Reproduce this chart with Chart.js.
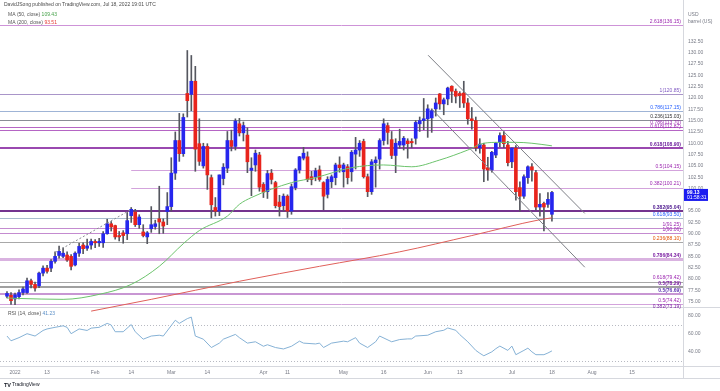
<!DOCTYPE html>
<html>
<head>
<meta charset="utf-8">
<title>USOIL daily</title>
<script src="https://cdn.jsdelivr.net/npm/chart.js@4.4.1/dist/chart.umd.min.js"></script>
<style>
  body { margin: 0; background: #ffffff; }
  canvas { display: block; }
</style>
</head>
<body>
<canvas id="myChart" width="720" height="391"></canvas>
<script>
// daily bars from 30 Dec 2021 to 18 Jul 2022, US holidays have no bar
const noSession = ['2022-01-17', '2022-02-21', '2022-04-15', '2022-05-30', '2022-06-20', '2022-07-04'];

const open = [
  76.2, 76.4,
  75.6, 76.1, 77.0, 77.0, 79.6, 78.8, 78.5, 81.3, 82.4, 82.4, 83.9, 85.2, 85.0, 85.3, 85.0, 83.1, 85.7, 87.5, 86.8, 87.5,
  88.3, 88.0, 88.0, 90.0, 92.2, 91.8, 89.6, 90.2, 90.0, 94.0, 94.8, 92.0, 90.4, 89.3, 91.1, 91.6, 93.3, 92.6, 94.9,
  96.0, 103.4, 110.6, 107.7, 121.0, 120.8, 123.7, 109.9, 105.0, 109.3, 102.4, 95.8, 95.0, 102.2, 104.5, 110.6, 109.3, 114.3, 112.3, 111.8, 104.0, 105.2, 107.4,
  100.9, 99.3, 103.4, 101.3, 97.0, 96.2, 98.3, 95.0, 100.2, 104.1, 106.7, 107.0, 102.6, 102.6, 104.1, 101.3, 98.7, 101.5, 102.4, 105.2,
  103.7, 104.8, 103.7, 107.6, 108.5, 110.4, 102.6, 99.3, 105.7, 106.5, 110.6, 113.9, 110.8, 107.3, 109.6, 109.6, 110.5, 110.4, 111.1, 114.3, 115.0,
  115.4, 115.6, 117.6, 120.9, 118.7, 119.8, 122.6, 121.5, 121.0, 121.1, 118.9, 115.4, 115.0, 109.0, 109.6, 104.6, 104.1, 107.4, 110.2, 111.7, 109.6,
  105.9, 108.9, 100.2, 98.3, 102.4, 104.8, 103.5, 95.9, 96.7, 96.5, 94.3
];
const high = [
  77.2, 77.0,
  76.9, 77.6, 78.2, 80.2, 80.0, 79.3, 81.5, 82.9, 83.0, 84.3, 86.0, 87.3, 86.9, 86.0, 85.4, 86.0, 87.9, 88.0, 88.8, 88.8,
  88.7, 89.0, 90.5, 93.2, 92.7, 91.9, 90.5, 90.7, 94.7, 95.8, 95.4, 94.2, 92.0, 90.5, 96.0, 93.0, 100.5, 93.3, 99.1,
  106.8, 112.5, 116.6, 116.5, 130.5, 129.4, 127.0, 115.4, 110.0, 109.9, 103.0, 98.0, 103.0, 105.5, 112.6, 112.9, 115.4, 115.5, 114.7, 113.4, 106.8, 108.5, 108.0,
  101.3, 104.0, 104.2, 101.6, 98.5, 98.8, 98.6, 101.0, 104.4, 107.1, 109.1, 108.1, 103.8, 104.5, 105.0, 101.5, 102.6, 103.0, 105.6, 107.0,
  105.6, 105.3, 108.4, 111.3, 110.6, 110.9, 103.2, 106.4, 107.0, 111.0, 115.4, 114.5, 112.6, 111.0, 113.1, 111.5, 111.0, 111.0, 115.0, 115.8, 119.9,
  118.5, 117.6, 120.0, 121.0, 120.0, 122.4, 122.7, 122.0, 121.4, 123.7, 119.9, 117.9, 115.8, 111.0, 110.0, 106.9, 108.2, 110.2, 112.3, 112.6, 110.4,
  109.0, 109.5, 101.5, 103.0, 105.0, 105.5, 104.0, 98.9, 97.0, 99.1, 99.4
];
const low = [
  75.8, 74.4,
  74.3, 75.6, 76.5, 76.8, 78.0, 77.3, 78.1, 80.7, 81.3, 81.6, 83.5, 84.6, 84.7, 83.9, 82.0, 82.9, 85.0, 85.6, 86.3, 86.6,
  86.9, 87.2, 87.0, 89.9, 90.6, 88.8, 88.4, 87.9, 88.7, 92.5, 91.6, 91.2, 89.3, 87.8, 90.3, 91.0, 90.0, 90.1, 92.0,
  95.0, 102.0, 106.0, 107.1, 115.8, 117.2, 103.8, 105.1, 104.5, 99.8, 93.5, 93.9, 94.0, 100.8, 103.5, 108.3, 108.5, 111.6, 110.5, 103.5, 98.4, 103.8, 99.4,
  98.0, 97.8, 101.0, 95.7, 93.9, 95.0, 93.6, 94.3, 99.7, 103.4, 106.3, 101.5, 100.8, 101.7, 101.6, 95.3, 97.9, 100.2, 100.8, 103.6,
  100.3, 101.0, 101.6, 104.3, 107.1, 102.3, 98.2, 98.7, 100.3, 104.3, 109.6, 109.8, 106.6, 103.5, 108.9, 108.5, 106.7, 109.0, 109.8, 112.6, 113.0,
  111.3, 112.4, 116.0, 117.5, 116.3, 118.5, 119.0, 118.9, 117.9, 117.9, 114.2, 113.1, 108.3, 107.8, 101.5, 101.8, 103.6, 106.8, 109.2, 109.0, 105.0,
  104.6, 97.4, 95.0, 97.8, 101.1, 101.6, 95.2, 93.9, 90.6, 95.8, 92.8
];
const close = [
  76.8, 75.2,
  76.5, 77.0, 77.8, 79.6, 78.8, 78.0, 81.3, 82.4, 81.7, 83.9, 85.0, 86.1, 85.7, 84.2, 82.8, 85.7, 87.2, 86.7, 87.3, 88.3,
  88.0, 88.3, 90.0, 92.2, 91.5, 89.3, 89.3, 89.6, 92.9, 95.4, 92.0, 93.7, 89.6, 90.2, 92.0, 92.2, 92.6, 91.7, 96.0,
  103.4, 110.6, 107.7, 115.7, 119.4, 123.7, 108.7, 106.0, 109.3, 103.0, 96.4, 95.0, 103.0, 104.7, 110.6, 109.3, 114.9, 112.3, 113.9, 105.9, 104.5, 107.8, 100.3,
  99.2, 103.3, 102.0, 96.2, 96.0, 98.3, 95.0, 100.4, 104.1, 107.0, 107.8, 102.0, 102.0, 103.9, 102.0, 98.3, 102.0, 102.6, 105.2, 104.6,
  105.2, 102.4, 108.0, 108.5, 110.0, 102.6, 99.3, 105.9, 106.3, 110.6, 114.3, 112.4, 107.3, 110.0, 110.4, 111.1, 109.9, 110.1, 114.6, 115.0, 115.4,
  117.6, 117.2, 118.9, 118.7, 119.6, 122.2, 121.5, 120.4, 120.5, 118.9, 115.4, 115.0, 109.0, 109.8, 104.3, 104.1, 108.0, 110.0, 111.7, 109.9, 105.7,
  108.9, 99.3, 98.3, 102.6, 104.8, 104.1, 95.9, 96.5, 95.9, 97.6, 99.13
];

// moving averages (bar number, price)
const ma50Bar = [0, 3, 14, 23, 31, 38, 44, 48, 55, 58, 61, 71, 77, 86, 94, 101, 108, 115, 119, 123, 127, 131, 136];
const ma50Value = [75.8, 75.7, 75.5, 76.6, 78.8, 82.8, 87.8, 90.7, 93.9, 96.5, 98.0, 101.3, 102.4, 104.6, 105.2, 104.8, 106.3, 108.5, 110.0, 110.2, 110.2, 110.0, 109.43];
const ma200Bar = [21, 36, 58, 78, 98, 116, 133, 136];
const ma200Value = [72.9, 75.5, 79.5, 82.8, 86.0, 89.6, 93.1, 93.51];

// RSI(14)
const rsiBar = [0, 1, 3, 5, 7, 9, 10, 12, 14, 15, 16, 18, 20, 21, 23, 25, 26, 27, 29, 31, 32, 34, 36, 38, 39, 42, 43, 45, 46, 47, 49, 51, 53, 54, 57, 58, 60, 62, 64, 65, 67, 69, 71, 73, 74, 77, 78, 79, 81, 84, 85, 87, 88, 90, 92, 93, 96, 98, 100, 101, 102, 105, 107, 109, 110, 112, 113, 115, 117, 118, 119, 121, 122, 123, 125, 126, 127, 129, 130, 131, 132, 134, 135, 136];
const rsiValue = [57.8, 52.5, 56.0, 60.4, 57.8, 64.0, 65.7, 67.5, 69.2, 67.5, 60.4, 65.7, 64.0, 66.6, 67.5, 71.9, 70.1, 62.6, 62.6, 70.6, 62.6, 54.3, 57.8, 58.7, 57.8, 75.4, 71.9, 77.2, 78.9, 57.8, 54.3, 45.0, 49.9, 54.3, 59.6, 56.0, 49.9, 51.4, 46.4, 48.1, 45.0, 43.4, 46.4, 52.1, 49.9, 49.0, 49.9, 45.0, 49.9, 52.1, 51.4, 56.0, 49.9, 45.0, 51.4, 57.8, 51.4, 53.9, 54.6, 54.6, 57.8, 58.7, 62.6, 64.2, 66.8, 64.2, 59.4, 51.4, 41.8, 38.6, 35.8, 40.2, 43.7, 46.6, 41.8, 46.6, 37.0, 41.8, 44.3, 40.2, 37.0, 37.0, 38.9, 41.23];

// trend lines (bar number, price)
const channelTop = [[105.1, 129.45], [144.2, 94.49]];
const channelBottom = [[106.0, 117.56], [144.2, 82.6]];
const earlyTrend = [[12, 85.85], [31, 95.36]];

// fibonacci levels drawn on the chart
const fibValue = [136.15, 120.85, 117.15, 115.03, 113.70, 112.87, 108.90, 104.15, 100.21, 95.04, 93.50, 91.25, 90.06, 88.10, 84.34, 79.42, 78.29, 76.69, 74.42, 73.19];
const fibText = ['2.618(136.15)', '1(120.85)', '0.786(117.15)', '0.236(115.03)', '0.786(113.70)', '0.618(112.87)', '0.618(108.90)', '0.5(104.15)', '0.382(100.21)', '0.382(95.04)', '0.618(93.50)', '1(91.25)', '1(90.06)', '0.236(88.10)', '0.786(84.34)', '0.618(79.42)', '0.5(78.29)', '0.5(76.69)', '0.5(74.42)', '0.382(73.19)'];
const fibFromBar = [null, null, null, null, null, null, null, 31, 31, null, null, null, null, null, null, null, null, null, null, null];

// axis labels
const priceTicks = [75, 77.5, 80, 82.5, 85, 87.5, 90, 92.5, 95, 97.5, 100, 102.5, 105, 107.5, 110, 112.5, 115, 117.5, 120, 122.5, 125, 127.5, 130, 132.5];
const rsiTicks = [80, 60, 40];
const tickDates = ['2022-01-03', '2022-01-13', '2022-02-01', '2022-02-14', '2022-03-01', '2022-03-14', '2022-04-01', '2022-04-11', '2022-05-02', '2022-05-16', '2022-06-01', '2022-06-13', '2022-07-01', '2022-07-18', '2022-08-01', '2022-08-15'];
const tickText = ['2022', '13', 'Feb', '14', 'Mar', '14', 'Apr', '11', 'May', '16', 'Jun', '13', 'Jul', '18', 'Aug', '15'];

// styles
const FONT = '"Liberation Sans", Arial, sans-serif';
const upColor = '#2626ee';
const downColor = '#e8241c';
const fibLine = ['#ce93d8', '#a995c9', '#9fb4d6', '#8a8d96', '#b565c4', '#b565c4', '#9a48b0', '#d3a3dc', '#d3a3dc', '#74338f', '#a9bccf', '#c48bd0', '#c48bd0', '#a8a8a8', '#d9b2e0', '#a8a8a8', '#a0a0a0', '#c896d3', '#d3a3dc', '#b57cc4'];
const fibWidth = [1, 1, 1, 1, 1, 1, 2, 1, 1, 2, 1, 1, 1, 1, 3, 1, 2, 2, 1, 1];
const fibLabel = ['#9c27b0', '#7e57c2', '#2962ff', '#333333', '#9c27b0', '#9c27b0', '#6a1b9a', '#9c27b0', '#9c27b0', '#4a148c', '#2962ff', '#9c27b0', '#9c27b0', '#e65100', '#7b1fa2', '#9c27b0', '#7b1fa2', '#5e35b1', '#9c27b0', '#7b1fa2'];

function sessionDays(from, to) {
  const out = [];
  const d = new Date(from + 'T00:00:00Z');
  const end = new Date(to + 'T00:00:00Z');
  while (d <= end) {
    const s = d.toISOString().slice(0, 10);
    const wd = d.getUTCDay();
    if (wd !== 0 && wd !== 6 && !noSession.includes(s)) out.push(s);
    d.setUTCDate(d.getUTCDate() + 1);
  }
  return out;
}
const days = sessionDays('2021-12-30', '2022-08-31');
const tickBars = tickDates.map(d => days.indexOf(d));

const bars = close.map((c, i) => i);
const bodyData = bars.map(i => ({x: i, y: [open[i], close[i]]}));
const wickData = bars.map(i => ({x: i, y: [low[i], high[i]]}));
const bodyColors = bars.map(i => close[i] >= open[i] ? upColor : downColor);

const pts = (xs, ys) => xs.map((b, k) => ({x: b, y: ys[k]}));
const seg = s => s.map(p => ({x: p[0], y: p[1]}));

const overlay = {
  id: 'overlay',
  beforeDatasetsDraw(chart) {
    const {ctx, chartArea: a, scales: {x, y, yr}} = chart;
    ctx.save();
    // fib levels
    fibValue.forEach((v, k) => {
      const py = Math.round(y.getPixelForValue(v)) + (fibWidth[k] % 2 ? 0.5 : 0);
      const from = fibFromBar[k] === null ? a.left : x.getPixelForValue(fibFromBar[k]);
      ctx.strokeStyle = fibLine[k];
      ctx.lineWidth = fibWidth[k];
      ctx.beginPath(); ctx.moveTo(from, py); ctx.lineTo(a.right, py); ctx.stroke();
    });
    // pane split and rsi guide lines
    ctx.fillStyle = '#ffffff';
    ctx.fillRect(0, 308, 720, 58);
    ctx.strokeStyle = '#d6d8de'; ctx.lineWidth = 1;
    ctx.beginPath(); ctx.moveTo(0, 307.5); ctx.lineTo(720, 307.5); ctx.stroke();
    ctx.setLineDash([1, 2]);
    ctx.strokeStyle = '#b8bac2';
    [70, 30].forEach(v => {
      const py = Math.round(yr.getPixelForValue(v)) + 0.5;
      ctx.beginPath(); ctx.moveTo(a.left, py); ctx.lineTo(a.right, py); ctx.stroke();
    });
    ctx.restore();
  },
  afterDraw(chart) {
    const {ctx, chartArea: a, scales: {y, yr}} = chart;
    ctx.save();
    ctx.textBaseline = 'middle';
    // fib labels
    ctx.textAlign = 'right';
    fibValue.forEach((v, k) => {
      const py = y.getPixelForValue(v);
      ctx.font = (fibWidth[k] > 1 ? 'bold ' : '') + '5px ' + FONT;
      ctx.fillStyle = fibLabel[k];
      ctx.fillText(fibText[k], a.right - 2, py - 3.5);
    });
    // header
    ctx.textAlign = 'left';
    ctx.font = '5px ' + FONT;
    ctx.fillStyle = '#4a4a4a';
    ctx.fillText('DavidJSong published on TradingView.com, Jul 18, 2022 19:01 UTC', 4, 5);
    const legend = (label, value, color, py) => {
      ctx.fillStyle = '#555555';
      ctx.fillText(label, 8, py);
      const w = ctx.measureText(label + ' ').width;
      ctx.fillStyle = color;
      ctx.fillText(value, 8 + w, py);
    };
    legend('MA (50, close)', ma50Value[ma50Value.length - 1].toFixed(2), '#43a047', 15);
    legend('MA (200, close)', ma200Value[ma200Value.length - 1].toFixed(2), '#e53935', 23);
    legend('RSI (14, close)', rsiValue[rsiValue.length - 1].toFixed(2), '#5b8fc7', 314);
    // axis unit
    ctx.fillStyle = '#787b86';
    ctx.fillText('USD', 688, 15);
    ctx.fillText('barrel (US)', 688, 22);
    // rsi axis labels
    rsiTicks.forEach(v => ctx.fillText(v.toFixed(2), 688, yr.getPixelForValue(v)));
    // last price tag
    const py = y.getPixelForValue(close[close.length - 1]);
    ctx.fillStyle = '#1b1bf0';
    ctx.fillRect(684, py - 3.5, 24, 12);
    ctx.fillStyle = '#ffffff';
    ctx.font = 'bold 5px ' + FONT;
    ctx.fillText(close[close.length - 1].toFixed(2), 687, py);
    ctx.font = '5px ' + FONT;
    ctx.fillText('01:58:31', 687, py + 5.5);
    // frame lines
    ctx.strokeStyle = '#d6d8de'; ctx.lineWidth = 1;
    ctx.beginPath();
    ctx.moveTo(683.5, 0); ctx.lineTo(683.5, 378);
    ctx.moveTo(0, 378.5); ctx.lineTo(720, 378.5);
    ctx.moveTo(683, 366.5); ctx.lineTo(720, 366.5);
    ctx.stroke();
    // footer
    ctx.fillStyle = '#131722';
    ctx.font = 'bold 5.5px ' + FONT;
    ctx.fillText('TV', 4, 385);
    ctx.font = '5px ' + FONT;
    ctx.fillText('TradingView', 12, 385);
    ctx.restore();
  }
};

const ctx = document.getElementById('myChart').getContext('2d');
new Chart(ctx, {
  type: 'bar',
  data: {
    datasets: [
      {
        label: 'body', data: bodyData, backgroundColor: bodyColors,
        barThickness: 3, grouped: false, minBarLength: 1, order: 2
      },
      {
        label: 'wick', data: wickData, backgroundColor: '#55575f',
        barThickness: 1, grouped: false, order: 3
      },
      {
        type: 'line', label: 'MA 50', data: pts(ma50Bar, ma50Value),
        borderColor: '#6cc36c', borderWidth: 1, pointRadius: 0, cubicInterpolationMode: 'monotone', order: 1
      },
      {
        type: 'line', label: 'MA 200', data: pts(ma200Bar, ma200Value),
        borderColor: '#e0605a', borderWidth: 1, pointRadius: 0, cubicInterpolationMode: 'monotone', order: 1
      },
      {
        type: 'line', label: 'channel top', data: seg(channelTop),
        borderColor: '#7d7f86', borderWidth: 1, pointRadius: 0, order: 0
      },
      {
        type: 'line', label: 'channel bottom', data: seg(channelBottom),
        borderColor: '#7d7f86', borderWidth: 1, pointRadius: 0, order: 0
      },
      {
        type: 'line', label: 'trend', data: seg(earlyTrend),
        borderColor: '#8a8c93', borderWidth: 1, borderDash: [2, 2], pointRadius: 0, order: 0
      },
      {
        type: 'line', label: 'RSI', data: pts(rsiBar, rsiValue), yAxisID: 'yr',
        borderColor: '#86b2d6', borderWidth: 1, pointRadius: 0, tension: 0, order: 0
      }
    ]
  },
  options: {
    responsive: false,
    animation: false,
    layout: { padding: 0 },
    plugins: { legend: { display: false }, tooltip: { enabled: false } },
    scales: {
      x: {
        type: 'linear', min: -1.747, max: 168.71, offset: false,
        grid: { display: false, drawTicks: false },
        border: { color: '#d6d8de' },
        afterBuildTicks: ax => { ax.ticks = tickBars.map(v => ({value: v})); },
        afterFit: ax => { ax.height = 25; },
        ticks: {
          autoSkip: false, maxRotation: 0, padding: 4,
          font: { family: FONT, size: 5 }, color: '#787b86',
          callback: v => tickText[tickBars.indexOf(v)]
        }
      },
      y: {
        position: 'right', min: 60.77, max: 139.89,
        grid: { display: false, drawTicks: false },
        border: { display: false },
        afterBuildTicks: ax => { ax.ticks = priceTicks.map(v => ({value: v})); },
        afterFit: ax => { ax.width = 37; },
        ticks: {
          padding: 5, font: { family: FONT, size: 5 }, color: '#787b86',
          callback: v => v.toFixed(2)
        }
      },
      yr: {
        position: 'right', display: false, min: 24.41, max: 423.3
      }
    }
  },
  plugins: [overlay]
});
</script>
</body>
</html>
